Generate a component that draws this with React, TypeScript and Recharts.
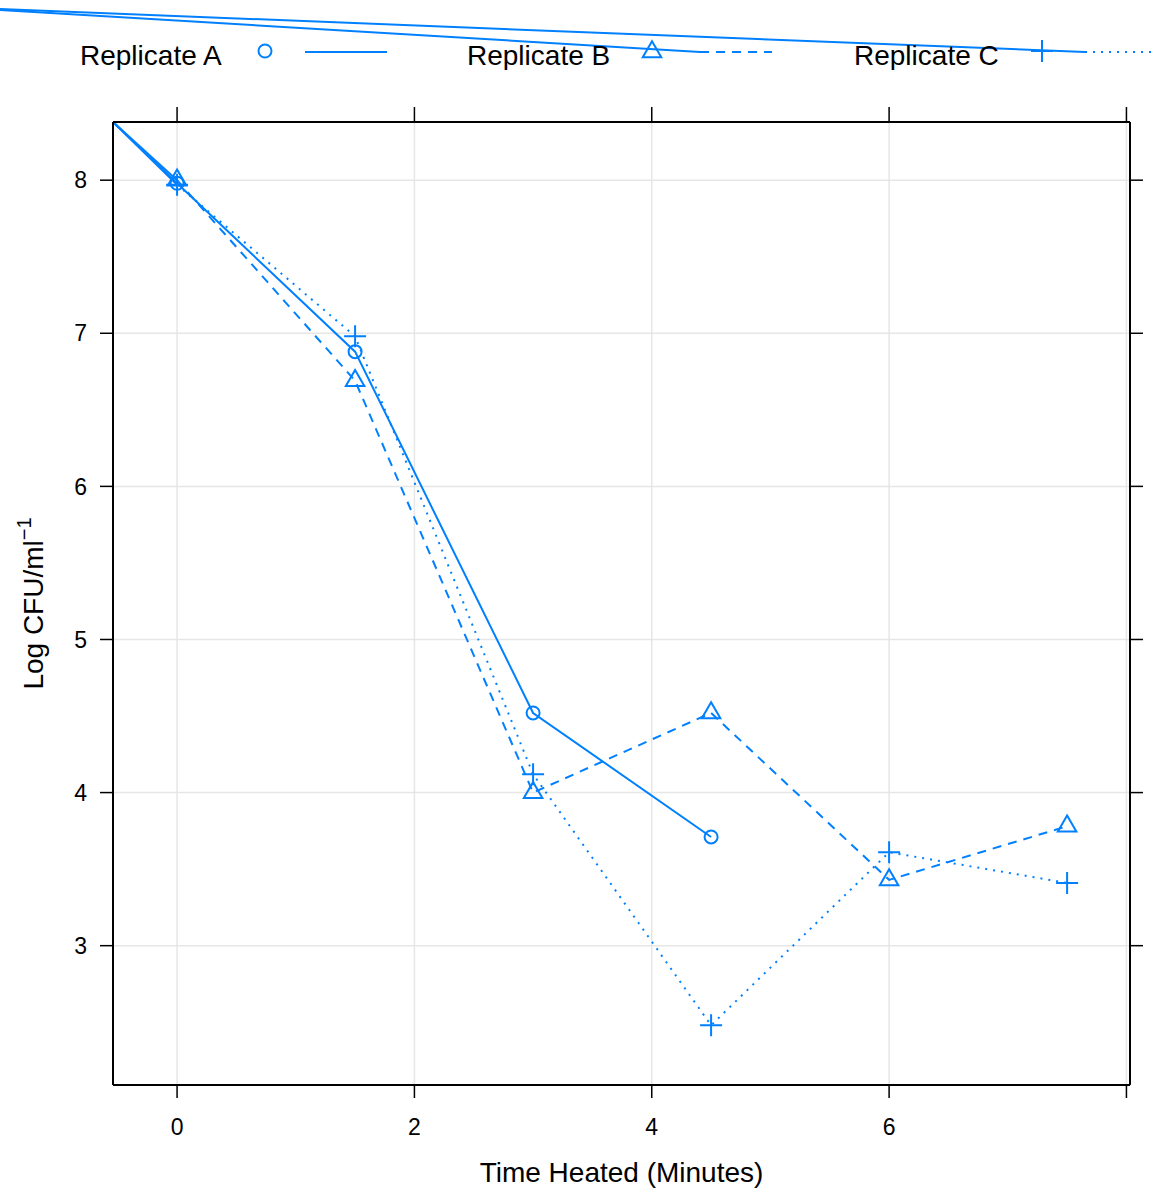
import React from "react";
import {
  LineChart, Line, XAxis, YAxis, CartesianGrid, Legend, ReferenceLine,
} from "recharts";

// time heated (minutes) and log counts per replicate
const TIME = [0, 1.5, 3, 4.5, 6, 7.5];
const REP_A = [7.98, 6.88, 4.52, 3.71];
const REP_B = [8.0, 6.69, 4.0, 4.52, 3.43, 3.78];
const REP_C = [7.97, 6.98, 4.12, 2.48, 3.61, 3.41];

const X_TICKS = [0, 2, 4, 6, 8];
const Y_TICKS = [3, 4, 5, 6, 7, 8];
const X_DOMAIN: [number, number] = [-0.54, 8.03];
const Y_DOMAIN: [number, number] = [2.09, 8.38];

const BLUE = "#0080ff";
const FONT = "'Liberation Sans', Arial, sans-serif";

const toRows = (vals: number[]) => vals.map((v, i) => ({ t: TIME[i], v }));

const dataA = toRows(REP_A);
const dataB = toRows(REP_B);
const dataC = toRows(REP_C);

function CircleMark({ cx, cy }: { cx: number; cy: number }) {
  return <circle cx={cx} cy={cy} r={6.5} fill="none" stroke={BLUE} strokeWidth={2} />;
}

function TriangleMark({ cx, cy }: { cx: number; cy: number }) {
  const r = 10.7;
  const xc = r * 0.866;
  return (
    <polygon
      points={`${cx},${cy - r} ${cx + xc},${cy + r / 2} ${cx - xc},${cy + r / 2}`}
      fill="none"
      stroke={BLUE}
      strokeWidth={2}
    />
  );
}

function PlusMark({ cx, cy }: { cx: number; cy: number }) {
  const h = 11;
  return (
    <path d={`M${cx - h},${cy}H${cx + h}M${cx},${cy - h}V${cy + h}`} stroke={BLUE} strokeWidth={2} fill="none" />
  );
}

const dotOf = (Mark: any) => (p: any) => <Mark key={`d-${p.index}`} cx={p.cx} cy={p.cy} />;

const renderLegend = () => (
  <svg width={1157} height={70} style={{ display: "block" }} fontFamily={FONT}>
    <line x1={0} y1={9} x2={1085} y2={52} stroke={BLUE} strokeWidth={2} />
    <line x1={0} y1={10} x2={700} y2={52} stroke={BLUE} strokeWidth={2} />

    <text x={80} y={65} fontSize={28} fill="#000">Replicate A</text>
    <CircleMark cx={265} cy={51} />
    <line x1={305} y1={52} x2={387} y2={52} stroke={BLUE} strokeWidth={2} />

    <text x={467} y={65} fontSize={28} fill="#000">Replicate B</text>
    <TriangleMark cx={652} cy={52} />
    <line x1={700} y1={52} x2={772} y2={52} stroke={BLUE} strokeWidth={2} strokeDasharray="9 7" />

    <text x={854} y={65} fontSize={28} fill="#000">Replicate C</text>
    <PlusMark cx={1042} cy={51} />
    <line x1={1085} y1={52} x2={1157} y2={52} stroke={BLUE} strokeWidth={2} strokeDasharray="2 6" />
  </svg>
);

const renderYLabel = (props: any) => {
  const vb = props.viewBox || { x: 0, y: 0, width: 0, height: 0 };
  const x = 43;
  const y = vb.y + vb.height / 2;
  return (
    <text
      x={x}
      y={y}
      transform={`rotate(-90 ${x} ${y})`}
      textAnchor="middle"
      fontSize={28}
      fontFamily={FONT}
      fill="#000"
    >
      Log CFU/ml
      <tspan fontSize={20} dy={-12}>{"\u22121"}</tspan>
    </text>
  );
};

const renderXLabel = (props: any) => {
  const vb = props.viewBox || { x: 0, y: 0, width: 0, height: 0 };
  return (
    <text
      x={vb.x + vb.width / 2}
      y={vb.y + 97}
      textAnchor="middle"
      fontSize={28}
      fontFamily={FONT}
      fill="#000"
    >
      Time Heated (Minutes)
    </text>
  );
};

const tickStyle = { fontSize: 23, fill: "#000", fontFamily: FONT };
const blank = () => "";

export default function App() {
  return (
    <div style={{ position: "absolute", left: 0, top: 0, background: "#fff", fontFamily: FONT }}>
      <LineChart width={1157} height={1194} margin={{ top: 0, right: 0, bottom: 0, left: 0 }}>
        <Legend verticalAlign="top" align="left" content={renderLegend} wrapperStyle={{ top: 0, left: 0, width: 1157, height: 70 }} />
        <CartesianGrid stroke="#e6e6e6" strokeWidth={1.5} horizontal vertical />
        <XAxis
          dataKey="t"
          type="number"
          domain={X_DOMAIN}
          ticks={X_TICKS}
          interval={0}
          allowDataOverflow
          height={109}
          tickSize={13}
          tickMargin={21}
          tick={tickStyle}
          tickFormatter={(v: number) => (v === 8 ? "" : String(v))}
          axisLine={{ stroke: "#000", strokeWidth: 2 }}
          tickLine={{ stroke: "#000", strokeWidth: 1.5 }}
          label={renderXLabel}
        />
        <XAxis
          xAxisId="top"
          orientation="top"
          dataKey="t"
          type="number"
          domain={X_DOMAIN}
          ticks={X_TICKS}
          interval={0}
          allowDataOverflow
          height={52}
          tickSize={15}
          tickFormatter={blank}
          axisLine={{ stroke: "#000", strokeWidth: 2 }}
          tickLine={{ stroke: "#000", strokeWidth: 1.5 }}
        />
        <YAxis
          type="number"
          domain={Y_DOMAIN}
          ticks={Y_TICKS}
          interval={0}
          allowDataOverflow
          width={113}
          tickSize={13}
          tickMargin={13}
          tick={tickStyle}
          axisLine={{ stroke: "#000", strokeWidth: 2 }}
          tickLine={{ stroke: "#000", strokeWidth: 1.5 }}
          label={renderYLabel}
        />
        <YAxis
          yAxisId="right"
          orientation="right"
          type="number"
          domain={Y_DOMAIN}
          ticks={Y_TICKS}
          interval={0}
          allowDataOverflow
          width={27}
          tickSize={13}
          tickFormatter={blank}
          axisLine={{ stroke: "#000", strokeWidth: 2 }}
          tickLine={{ stroke: "#000", strokeWidth: 1.5 }}
        />
        {[REP_A[0], REP_B[0], REP_C[0]].map((v, i) => (
          <ReferenceLine
            key={`seg-${i}`}
            segment={[{ x: X_DOMAIN[0], y: Y_DOMAIN[1] }, { x: TIME[0], y: v }]}
            stroke={BLUE}
            strokeWidth={2}
            ifOverflow="visible"
          />
        ))}
        <Line data={dataA} dataKey="v" type="linear" stroke={BLUE} strokeWidth={2} dot={dotOf(CircleMark)} activeDot={false} isAnimationActive={false} />
        <Line data={dataB} dataKey="v" type="linear" stroke={BLUE} strokeWidth={2} strokeDasharray="9 7" dot={dotOf(TriangleMark)} activeDot={false} isAnimationActive={false} />
        <Line data={dataC} dataKey="v" type="linear" stroke={BLUE} strokeWidth={2} strokeDasharray="2 6" dot={dotOf(PlusMark)} activeDot={false} isAnimationActive={false} />
      </LineChart>
    </div>
  );
}
